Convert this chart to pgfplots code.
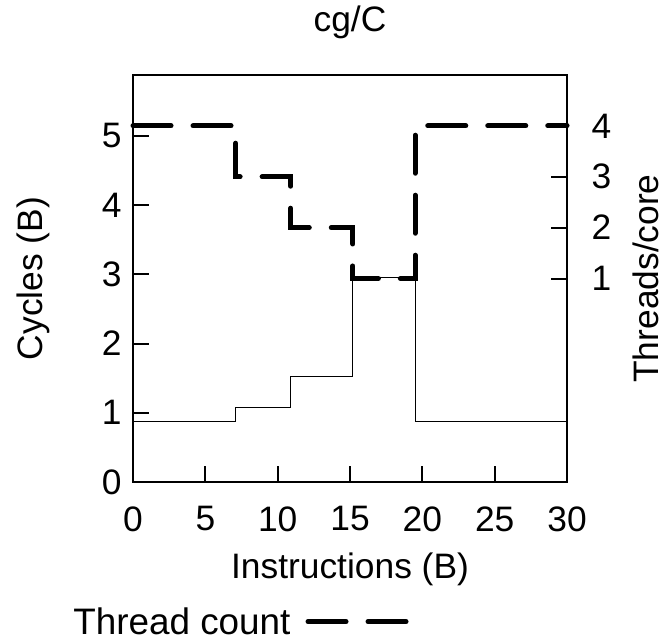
\documentclass[border=0pt]{standalone}
\usepackage{pgfplots}
\pgfplotsset{compat=1.18}
\usepackage{fontspec}
\setmainfont{Liberation Sans}
\begin{document}
\begin{tikzpicture}
\pgfplotsset{
  common/.style={
    width=434bp, height=407bp, scale only axis,
    xmin=0, xmax=30,
    font=\fontsize{35.5}{42}\selectfont,
    /pgf/number format/assume math mode=true,
    tick align=inside,
    major tick length=16bp,
    every tick/.style={black, line width=2bp},
    axis line style={line width=2.3bp},
    clip=false,
  }
}
\begin{axis}[common,
  ymin=0, ymax=5.88,
  xtick={0,5,...,30}, ytick={0,1,2,3,4,5},
  xtick pos=lower, ytick pos=left,
  xlabel={Instructions (B)}, ylabel={Cycles (B)},
  xlabel style={at={(axis description cs:0.5,-0.2138)}, anchor=center},
  ylabel style={at={(axis description cs:-0.2304,0.5)}, anchor=center},
  title={cg/C},
  title style={at={(axis description cs:0.5,1.091)}, anchor=base},
  xticklabel shift=21bp,
  yticklabel shift=8bp,
]
\path (axis description cs:-0.3065,-0.3833) rectangle (axis description cs:1.2258,1.1843);
\addplot[const plot, black, line width=1bp] coordinates {
  (0,0.87) (7.1,1.07) (10.9,1.53) (15.2,2.96) (19.5,0.87) (30,0.87)
};
\end{axis}
\begin{axis}[common,
  ymin=-3, ymax=5,
  axis x line=none, axis y line*=right,
  ytick={1,2,3,4},
  ylabel={Threads/core},
  ylabel style={at={(axis description cs:1.182,0.5)}, anchor=center},
  yticklabel shift=21bp,
  legend plot pos=right,
  legend style={at={(axis description cs:-0.138,-0.343)}, anchor=west, draw=none, fill=none, inner sep=0pt, column sep=15bp, nodes={inner sep=0pt}, font=\fontsize{37}{44}\selectfont},
  legend image code/.code={\draw[#1] (0bp,0bp) -- (103bp,0bp);},
]
\addplot[const plot, black, line width=5bp, line cap=round, dash pattern=on 38bp off 22bp] coordinates {
  (0,4) (7.1,3) (10.9,2) (15.2,1) (19.5,4) (30,4)
};
\addlegendentry{Thread count}
\end{axis}
\end{tikzpicture}
\end{document}
